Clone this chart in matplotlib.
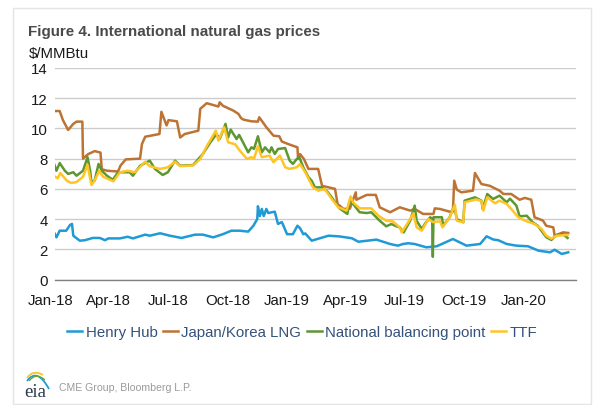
import matplotlib
matplotlib.use('Agg')
import matplotlib.pyplot as plt
from matplotlib.patches import Rectangle, PathPatch
from matplotlib.path import Path
from matplotlib.transforms import ScaledTranslation

plt.rcParams['font.family'] = ['Liberation Sans', 'DejaVu Sans']

# days since 2018-01-01, $/MMBtu
hh_days = [0, 3, 8, 18, 24, 27, 29, 39, 47, 59, 70, 78, 83, 101, 113, 121, 140, 147, 163, 178, 196, 217, 229, 245, 260,
           273, 286, 299, 307, 313, 314, 317, 320, 323, 327, 330, 340, 345, 351, 359, 368, 375, 379, 384, 387, 397, 405,
           423, 440, 459, 469, 497, 518, 530, 538, 546, 556, 574, 590, 615, 636, 657, 667, 677, 685, 698, 713, 731, 747,
           765, 772, 783, 793]
hh_vals = [3.06, 2.79, 3.23, 3.23, 3.61, 3.68, 2.9, 2.57, 2.6, 2.75, 2.75, 2.6, 2.72, 2.72, 2.83, 2.72, 2.97, 2.9, 3.06,
           2.9, 2.75, 2.97, 2.97, 2.79, 3.0, 3.23, 3.23, 3.17, 3.56, 4.0, 4.85, 4.2, 4.67, 4.2, 4.67, 4.4, 4.49, 3.68,
           3.8, 3.0, 3.0, 3.56, 3.4, 3.0, 3.05, 2.57, 2.67, 2.9, 2.85, 2.73, 2.5, 2.64, 2.35, 2.24, 2.35, 2.4, 2.35,
           2.13, 2.2, 2.68, 2.24, 2.35, 2.86, 2.65, 2.6, 2.35, 2.24, 2.2, 1.91, 1.8, 1.97, 1.69, 1.8]

jk_days = [0, 8, 13, 21, 29, 34, 43, 44, 52, 62, 71, 73, 81, 98, 102, 110, 132, 135, 140, 162, 165, 173, 176, 189, 194,
           201, 222, 225, 235, 253, 255, 260, 276, 284, 288, 292, 304, 314, 316, 327, 338, 347, 351, 363, 375, 376, 379,
           385, 392, 407, 413, 433, 437, 446, 456, 465, 466, 482, 496, 502, 518, 533, 549, 556, 569, 585, 587, 595, 610,
           615, 617, 621, 628, 646, 649, 659, 672, 687, 693, 705, 718, 726, 736, 741, 754, 759, 770, 772, 785, 793]
jk_vals = [11.15, 11.15, 10.55, 9.9, 10.3, 10.45, 10.45, 8.0, 8.3, 8.5, 8.4, 7.3, 7.2, 7.15, 7.55, 7.95, 8.0, 8.97, 9.45,
           9.63, 11.1, 10.2, 10.55, 10.47, 9.4, 9.63, 9.85, 11.3, 11.67, 11.45, 11.73, 11.5, 11.18, 10.96, 10.68, 10.58,
           10.47, 10.45, 10.74, 10.08, 9.52, 9.48, 9.13, 8.93, 8.75, 7.98, 8.3, 7.98, 7.32, 7.32, 6.2, 6.0, 5.0, 4.67,
           4.7, 5.77, 5.28, 5.6, 5.6, 4.78, 4.45, 4.78, 4.56, 4.67, 4.34, 4.34, 4.71, 4.67, 4.49, 4.49, 6.54, 5.95, 5.77,
           5.88, 7.05, 6.32, 6.2, 5.88, 5.66, 5.66, 5.28, 5.4, 5.28, 4.12, 3.9, 3.56, 3.45, 2.9, 3.12, 3.08]

nbp_days = [0, 3, 8, 16, 21, 29, 34, 44, 51, 55, 57, 62, 68, 73, 81, 90, 98, 116, 121, 132, 147, 155, 167, 175, 186, 194,
            214, 229, 240, 250, 255, 264, 268, 272, 281, 285, 299, 304, 308, 314, 320, 325, 332, 335, 340, 345, 356, 363,
            368, 374, 378, 384, 392, 397, 402, 412, 420, 428, 435, 440, 452, 457, 461, 471, 482, 489, 502, 512, 520, 528,
            533, 539, 549, 556, 559, 567, 572, 580, 583, 584, 585, 598, 600, 610, 617, 621, 631, 633, 649, 659, 661, 668,
            677, 687, 698, 703, 713, 718, 729, 738, 746, 759, 767, 775, 785, 792]
nbp_vals = [7.58, 7.2, 7.71, 7.2, 6.99, 7.1, 6.87, 7.2, 8.09, 7.2, 6.44, 6.55, 7.65, 7.2, 6.87, 6.6, 7.1, 7.1, 6.87, 7.53,
            7.87, 7.32, 6.92, 7.1, 7.87, 7.53, 7.58, 8.31, 9.04, 9.63, 9.3, 10.3, 9.4, 9.92, 9.3, 9.57, 8.42, 8.75, 8.65,
            9.48, 8.42, 8.75, 8.42, 8.75, 8.31, 8.64, 8.7, 7.87, 7.65, 7.98, 8.09, 7.43, 6.77, 6.54, 6.1, 6.1, 5.88, 5.44,
            5.0, 4.71, 4.34, 5.38, 5.0, 4.45, 4.4, 4.45, 3.89, 3.52, 3.67, 3.52, 3.45, 3.12, 3.89, 4.89, 3.89, 3.34, 3.7,
            4.12, 4.0, 1.5, 4.12, 4.12, 3.56, 4.12, 4.89, 4.0, 3.79, 5.22, 5.44, 5.22, 4.67, 5.66, 5.33, 5.55, 5.11, 5.35,
            4.89, 4.18, 4.22, 3.79, 3.56, 2.8, 2.62, 2.95, 3.0, 2.75]

ttf_days = [0, 5, 9, 19, 26, 34, 44, 51, 57, 62, 69, 75, 91, 101, 113, 124, 140, 147, 163, 175, 186, 194, 214, 225, 235,
            249, 253, 262, 268, 279, 286, 297, 304, 308, 314, 320, 332, 338, 348, 356, 363, 374, 379, 387, 399, 407, 417,
            428, 438, 451, 457, 461, 471, 489, 500, 512, 522, 533, 536, 546, 554, 559, 567, 577, 584, 595, 599, 610, 618,
            621, 631, 633, 651, 659, 662, 668, 680, 687, 698, 705, 716, 726, 741, 752, 759, 767, 775, 792]
ttf_vals = [6.83, 6.7, 7.05, 6.54, 6.39, 6.45, 6.8, 7.58, 6.26, 6.55, 7.2, 6.8, 6.5, 7.1, 7.2, 7.1, 7.8, 7.5, 7.32, 7.43,
            7.8, 7.5, 7.55, 7.98, 8.82, 9.85, 9.19, 10.08, 9.08, 8.95, 8.53, 7.98, 8.1, 8.0, 8.82, 8.1, 8.2, 7.76, 8.2,
            7.43, 7.32, 7.43, 7.65, 7.1, 6.1, 5.88, 6.0, 5.33, 4.78, 4.56, 5.5, 5.1, 4.71, 4.71, 4.22, 3.89, 3.85, 3.45,
            3.12, 3.79, 4.38, 3.45, 3.23, 4.0, 3.8, 3.85, 3.45, 4.12, 4.95, 3.89, 3.79, 5.11, 5.3, 5.2, 4.56, 5.44, 5.05,
            5.22, 5.0, 4.67, 4.12, 3.9, 3.67, 3.34, 2.9, 2.7, 2.9, 2.95]

tick_days = [0, 90, 181, 273, 365, 455, 546, 638, 730]
tick_labels = ['Jan-18', 'Apr-18', 'Jul-18', 'Oct-18', 'Jan-19', 'Apr-19', 'Jul-19', 'Oct-19', 'Jan-20']

W, H = 600, 406
fig = plt.figure(figsize=(W / 100, H / 100), dpi=100, facecolor='white')

# overlay in pixels for the frame and the logo
bg = fig.add_axes([0, 0, 1, 1], zorder=0)
bg.set_xlim(0, W)
bg.set_ylim(H, 0)
bg.axis('off')
bg.add_patch(Rectangle((12.5, 8.5), 578, 396, fc='white', ec='#e4e4e4', lw=1))
bg.add_patch(PathPatch(Path([(27, 382), (37, 368), (49, 390)], [Path.MOVETO, Path.CURVE3, Path.CURVE3]),
                       fc='none', ec='#1f9ad6', lw=1.3))
bg.add_patch(PathPatch(Path([(27, 379), (33, 370), (43, 376)], [Path.MOVETO, Path.CURVE3, Path.CURVE3]),
                       fc='none', ec='#f5c62c', lw=1.3))
bg.add_patch(PathPatch(Path([(29, 382), (36, 373), (45, 381)], [Path.MOVETO, Path.CURVE3, Path.CURVE3]),
                       fc='none', ec='#6aa53a', lw=1))
bg.text(35.5, 397, 'eia', family='Liberation Serif', fontsize=13.5, color='#2b3a4a', ha='center', va='baseline')

ax = fig.add_axes([54.5 / W, 1 - 280.5 / H, (576 - 54.5) / W, (280.5 - 69) / H], zorder=1)
ax.patch.set_alpha(0)

ax.plot(hh_days, hh_vals, color='#1f9ad6', lw=1.8, label='Henry Hub')
ax.plot(jk_days, jk_vals, color='#bd7334', lw=1.8, label='Japan/Korea LNG')
ax.plot(nbp_days, nbp_vals, color='#5d9732', lw=1.8, label='National balancing point')
ax.plot(ttf_days, ttf_vals, color='#ffc425', lw=1.8, label='TTF')

ax.set_xlim(0, 805)
ax.set_ylim(0, 14)
ax.set_yticks(range(0, 15, 2))
ax.set_xticks(tick_days)
ax.set_xticklabels(tick_labels)
ax.tick_params(axis='both', length=0, labelsize=10.8, labelcolor='#1a1a1a')
ax.tick_params(axis='x', pad=10)
ax.tick_params(axis='y', pad=5)
# month labels sit a little left of the quarter start
shift = ScaledTranslation(-4 / 100, 0, fig.dpi_scale_trans)
for lab in ax.get_xticklabels():
    lab.set_transform(lab.get_transform() + shift)

ax.grid(axis='y', color='#cccccc', lw=1)
ax.set_axisbelow(True)
for side in ['top', 'right', 'left']:
    ax.spines[side].set_visible(False)
ax.spines['bottom'].set_color('#808080')
ax.spines['bottom'].set_linewidth(1)

fig.text(28 / W, 1 - 32 / H, 'Figure 4. International natural gas prices', fontsize=10.9, fontweight='bold',
         color='#4a4a4a', va='center', ha='left')
fig.text(29 / W, 1 - 54 / H, r'\$/MMBtu', fontsize=10.8, color='#1a1a1a', va='center', ha='left')
fig.text(59 / W, 1 - 388 / H, 'CME Group, Bloomberg L.P.', fontsize=7.6, color='#9a9a9a', va='center', ha='left')

leg = fig.legend(loc='center', bbox_to_anchor=(302 / W, 1 - 333 / H), ncol=4, frameon=False, fontsize=10.8,
                 handlelength=1.0, handletextpad=0.25, columnspacing=0.35, borderpad=0, borderaxespad=0)
for t in leg.get_texts():
    t.set_color('#34527a')

fig.savefig('out.png', dpi=100)
